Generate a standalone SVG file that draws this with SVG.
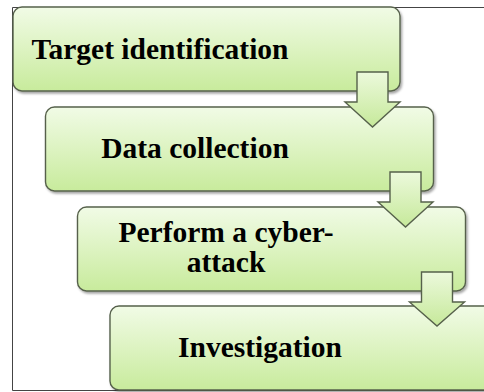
<svg xmlns="http://www.w3.org/2000/svg" width="484" height="392" viewBox="0 0 484 392">
<defs>
<linearGradient id="g" x1="0" y1="0" x2="0" y2="1">
<stop offset="0" stop-color="#f1fbe6"/>
<stop offset="1" stop-color="#c8eb9c"/>
</linearGradient>
<linearGradient id="ga" x1="0" y1="0" x2="0" y2="1">
<stop offset="0" stop-color="#ecf9dc"/>
<stop offset="1" stop-color="#c6e99a"/>
</linearGradient>
<filter id="sh" x="-5%" y="-5%" width="110%" height="120%">
<feDropShadow dx="1.5" dy="2" stdDeviation="1.2" flood-color="#000" flood-opacity="0.35"/>
</filter>
</defs>
<style>
.box{fill:url(#g);stroke:#56614b;stroke-width:1.4;filter:url(#sh)}
.arr{fill:url(#ga);stroke:#56614b;stroke-width:1.4;stroke-linejoin:miter}
.t{font-family:"Liberation Serif","Times New Roman",serif;font-weight:bold;font-size:29.5px;fill:#000;text-anchor:middle}
.frame{fill:none;stroke:#444;stroke-width:1}
</style>
<rect width="484" height="392" fill="#fff"/>
<path class="frame" d="M484 7.5H12.5V390.5H484"/>
<g id="node1">
<rect class="box" x="13" y="7" width="387" height="84" rx="9"/>
<text class="t" x="160" y="59">Target identification</text>
</g>
<g id="node2">
<rect class="box" x="45.5" y="107" width="388" height="84" rx="9"/>
<text class="t" x="195" y="158">Data collection</text>
</g>
<g id="node3">
<rect class="box" x="77.5" y="207" width="388" height="84" rx="9"/>
<text class="t" x="226" y="242">Perform a cyber-</text>
<text class="t" x="226" y="272">attack</text>
</g>
<g id="node4">
<rect class="box" x="110" y="306" width="388" height="84" rx="9"/>
<text class="t" x="260" y="357">Investigation</text>
</g>
<g id="connectors">
<path class="arr" d="M357 72H388V102H400L372.5 127L345 102H357Z"/>
<path class="arr" d="M390 172H421V202H433L405.5 227L378 202H390Z"/>
<path class="arr" d="M421.5 272H452.5V302H464.5L437 326L409.5 302H421.5Z"/>
</g>
</svg>
